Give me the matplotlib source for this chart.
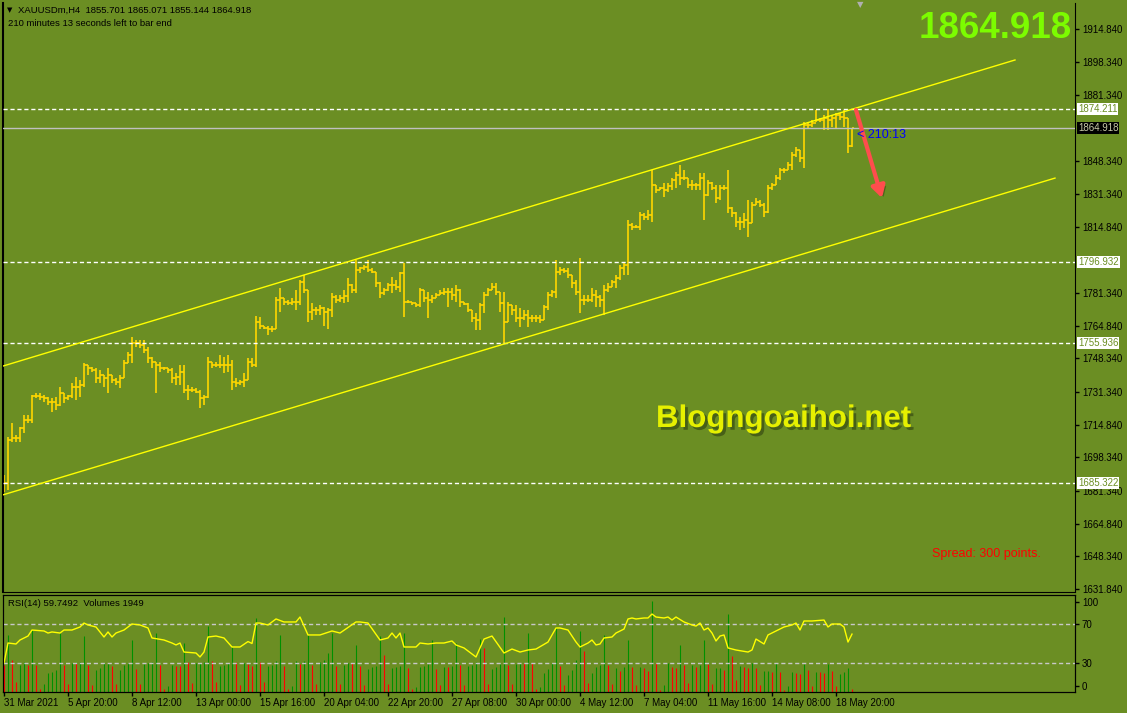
import numpy as np
import matplotlib.pyplot as plt
import matplotlib.patheffects as pe
from matplotlib.collections import LineCollection
from matplotlib.transforms import blended_transform_factory

plt.rcParams['font.family'] = ['Liberation Sans', 'DejaVu Sans']

BG = '#6B8E23'
BAR = '#FFD700'
W, H = 1127, 713

# XAUUSDm H4 bars, 31 Mar 2021 -> 19 May 2021 (open = previous close)
first_open = 1683.0
highs = [
    1689.4, 1708.6, 1715.7, 1709.7, 1713.7, 1719.8, 1719.8, 1729.9, 1730.9, 1730.9,
    1729.9, 1728.9, 1728.4, 1728.9, 1733.9, 1730.9, 1729.9, 1735.9, 1739.0, 1737.5,
    1746.0, 1745.0, 1744.0, 1743.5, 1742.5, 1740.0, 1743.5, 1740.2, 1738.5, 1740.0,
    1747.6, 1751.6, 1759.2, 1757.7, 1757.7, 1757.7, 1754.1, 1749.1, 1746.6, 1746.6,
    1744.0, 1743.5, 1743.5, 1741.0, 1745.0, 1745.0, 1734.9, 1733.9, 1733.4, 1732.4,
    1729.9, 1749.1, 1746.6, 1746.6, 1750.1, 1749.1, 1750.1, 1747.6, 1738.5, 1737.5,
    1741.0, 1748.6, 1748.6, 1769.8, 1769.3, 1764.7, 1764.7, 1764.7, 1779.4, 1783.9,
    1779.0, 1777.9, 1778.9, 1782.9, 1788.0, 1790.5, 1782.9, 1776.4, 1774.3, 1775.4,
    1774.3, 1773.8, 1781.4, 1780.4, 1780.4, 1782.9, 1789.0, 1785.8, 1798.1, 1794.6,
    1795.6, 1798.1, 1794.1, 1792.0, 1787.0, 1783.9, 1786.5, 1789.5, 1788.0, 1792.0,
    1796.6, 1777.9, 1776.9, 1776.4, 1783.9, 1782.9, 1781.9, 1780.4, 1781.4, 1782.9,
    1783.9, 1783.9, 1783.9, 1785.5, 1783.2, 1776.9, 1776.4, 1772.8, 1771.3, 1776.4,
    1781.9, 1783.9, 1786.5, 1786.5, 1781.9, 1781.9, 1776.9, 1775.6, 1775.4, 1773.8,
    1772.8, 1772.8, 1770.3, 1770.3, 1770.3, 1775.4, 1781.9, 1782.9, 1798.1, 1794.6,
    1794.1, 1794.1, 1790.5, 1788.0, 1799.1, 1780.4, 1780.4, 1783.9, 1782.9, 1780.4,
    1785.5, 1786.5, 1788.0, 1790.5, 1795.6, 1796.6, 1818.3, 1816.8, 1815.8, 1822.4,
    1821.9, 1823.4, 1843.6, 1836.0, 1835.0, 1837.0, 1837.0, 1839.5, 1842.6, 1846.1,
    1843.6, 1839.5, 1838.5, 1837.0, 1842.1, 1842.1, 1838.5, 1837.5, 1836.0, 1836.0,
    1836.0, 1843.6, 1824.9, 1822.2, 1819.8, 1821.9, 1828.4, 1827.4, 1829.4, 1828.4,
    1826.9, 1836.0, 1837.0, 1841.1, 1844.6, 1844.6, 1847.6, 1852.7, 1855.2, 1853.7,
    1867.8, 1867.8, 1868.9, 1873.9, 1869.9, 1871.4, 1874.2, 1871.4, 1872.4, 1872.4,
    1873.9, 1869.9, 1865.071]
lows = [
    1680.8, 1681.9, 1706.1, 1706.1, 1706.1, 1710.7, 1715.7, 1715.7, 1728.4, 1727.3,
    1726.3, 1724.8, 1721.3, 1722.3, 1724.5, 1725.8, 1727.3, 1728.4, 1727.3, 1728.9,
    1733.9, 1740.0, 1741.5, 1735.9, 1735.9, 1733.9, 1730.9, 1735.9, 1734.9, 1733.4,
    1738.5, 1746.0, 1746.0, 1754.1, 1753.6, 1751.1, 1746.0, 1743.5, 1730.9, 1741.5,
    1742.5, 1741.0, 1735.9, 1734.9, 1734.9, 1730.9, 1727.3, 1731.4, 1730.9, 1723.3,
    1724.8, 1728.4, 1743.5, 1744.0, 1743.5, 1741.0, 1741.5, 1732.4, 1733.9, 1734.9,
    1733.9, 1737.5, 1744.0, 1744.0, 1763.2, 1763.2, 1760.2, 1761.7, 1763.2, 1771.8,
    1775.4, 1775.4, 1775.4, 1772.8, 1775.4, 1781.4, 1766.8, 1767.8, 1770.3, 1770.3,
    1764.7, 1763.2, 1769.3, 1776.4, 1776.9, 1776.4, 1776.9, 1781.4, 1781.4, 1791.5,
    1793.0, 1792.0, 1791.5, 1784.5, 1778.9, 1780.4, 1782.5, 1781.4, 1782.9, 1781.9,
    1769.3, 1776.4, 1775.4, 1774.3, 1774.3, 1776.9, 1768.8, 1776.4, 1778.9, 1780.4,
    1780.4, 1774.3, 1777.9, 1776.9, 1774.3, 1775.4, 1771.8, 1766.8, 1762.7, 1762.7,
    1771.3, 1780.0, 1782.9, 1780.4, 1771.8, 1756.2, 1766.8, 1770.3, 1766.8, 1764.2,
    1767.8, 1764.2, 1766.8, 1766.8, 1766.3, 1767.8, 1772.8, 1779.4, 1778.9, 1790.5,
    1791.5, 1789.0, 1783.9, 1780.4, 1771.3, 1775.4, 1776.9, 1776.9, 1774.3, 1774.3,
    1770.3, 1781.9, 1784.5, 1783.9, 1788.0, 1790.5, 1790.5, 1813.3, 1814.3, 1813.3,
    1818.3, 1818.3, 1817.3, 1832.0, 1833.5, 1829.9, 1832.5, 1833.5, 1834.5, 1836.0,
    1838.5, 1834.5, 1833.5, 1833.5, 1833.5, 1818.3, 1830.5, 1833.5, 1826.9, 1828.4,
    1833.5, 1821.9, 1819.8, 1814.8, 1813.3, 1814.3, 1809.7, 1816.8, 1825.9, 1824.9,
    1819.8, 1822.0, 1833.5, 1835.8, 1838.5, 1842.1, 1843.6, 1843.6, 1850.2, 1847.6,
    1844.6, 1864.8, 1865.3, 1867.8, 1867.8, 1863.8, 1863.8, 1865.3, 1864.8, 1868.9,
    1865.3, 1852.2, 1855.144]
closes = [
    1685.4, 1707.1, 1708.1, 1708.1, 1713.2, 1717.2, 1717.2, 1729.4, 1729.4, 1728.9,
    1728.4, 1726.3, 1726.3, 1724.8, 1730.9, 1728.4, 1729.4, 1733.9, 1733.9, 1734.9,
    1745.0, 1743.5, 1742.5, 1738.5, 1740.0, 1738.5, 1740.0, 1737.5, 1736.4, 1738.5,
    1746.0, 1750.1, 1756.2, 1756.2, 1755.1, 1752.6, 1748.6, 1746.6, 1745.0, 1743.5,
    1743.5, 1742.5, 1738.5, 1739.0, 1741.5, 1732.4, 1732.4, 1732.4, 1731.4, 1728.4,
    1728.9, 1746.6, 1745.0, 1745.0, 1745.0, 1745.0, 1745.0, 1736.4, 1735.9, 1736.4,
    1737.5, 1746.6, 1745.0, 1766.8, 1764.7, 1763.7, 1763.2, 1763.2, 1777.9, 1778.9,
    1776.9, 1776.4, 1776.9, 1776.9, 1787.0, 1782.9, 1771.8, 1772.8, 1772.8, 1773.8,
    1771.8, 1772.8, 1779.4, 1777.9, 1778.9, 1779.9, 1785.5, 1782.9, 1793.0, 1794.1,
    1794.6, 1793.0, 1792.0, 1786.5, 1781.4, 1782.9, 1785.5, 1785.5, 1784.5, 1791.5,
    1776.9, 1776.9, 1776.4, 1775.4, 1782.9, 1778.9, 1777.9, 1778.9, 1780.4, 1781.4,
    1781.9, 1781.9, 1780.4, 1782.9, 1776.9, 1775.9, 1772.8, 1768.8, 1767.8, 1775.4,
    1780.4, 1782.9, 1784.5, 1781.9, 1776.4, 1766.8, 1775.4, 1772.8, 1768.8, 1768.8,
    1770.3, 1768.8, 1768.8, 1768.8, 1767.8, 1774.3, 1780.4, 1781.9, 1792.0, 1793.0,
    1792.5, 1790.5, 1786.5, 1781.9, 1777.9, 1777.9, 1777.9, 1780.4, 1779.4, 1777.9,
    1782.9, 1784.5, 1787.0, 1789.0, 1794.1, 1795.6, 1815.8, 1814.8, 1814.8, 1820.8,
    1819.8, 1820.8, 1836.0, 1833.5, 1834.5, 1833.5, 1835.5, 1838.5, 1841.1, 1839.5,
    1839.5, 1836.0, 1836.0, 1836.0, 1839.5, 1831.0, 1837.0, 1834.5, 1829.4, 1834.5,
    1834.5, 1824.4, 1821.9, 1817.3, 1817.3, 1818.3, 1816.8, 1825.9, 1827.4, 1825.9,
    1822.4, 1834.5, 1836.0, 1839.5, 1843.6, 1843.6, 1846.1, 1851.2, 1853.7, 1849.7,
    1866.3, 1866.3, 1867.3, 1868.9, 1868.9, 1869.9, 1868.9, 1869.9, 1871.4, 1870.4,
    1869.9, 1855.7, 1864.918]

volumes = [
    16200, 34200, 19200, 6200, 16200, 17800, 16200, 37200, 16200, 2000,
    4800, 11600, 12200, 13200, 35600, 16200, 4800, 17600, 17600, 17800,
    33600, 16200, 4200, 13200, 14200, 17200, 17600, 15600, 4600, 13200,
    16200, 17600, 31200, 13800, 4800, 16800, 17600, 18200, 35600, 16200,
    1800, 3600, 16200, 15600, 15600, 29200, 18200, 5200, 17200, 17600,
    18200, 39600, 18600, 6200, 15600, 16200, 17600, 27200, 18200, 4200,
    17600, 16800, 15600, 44200, 18200, 6000, 15600, 16200, 18800, 34200,
    15600, 2000, 3600, 18600, 16800, 18600, 34200, 16200, 4600, 18200,
    19200, 23200, 35600, 15600, 4800, 16200, 17600, 17600, 28200, 15600,
    4200, 13800, 14800, 15600, 33600, 22200, 4800, 14200, 14800, 15600,
    35600, 14200, 1800, 2800, 14800, 15600, 16800, 31200, 13800, 4200,
    14800, 14800, 15600, 29200, 16200, 4200, 15600, 16200, 18200, 31600,
    26200, 4800, 13800, 15200, 16800, 45200, 16200, 4600, 16800, 17600,
    17600, 35600, 17600, 2000, 3000, 11200, 13800, 17200, 38800,
    15600, 4200, 10400, 13200, 19200, 36600, 24600, 5200, 11200, 14800,
    16200, 34200, 16200, 4800, 14200, 12600, 14800, 31200, 14800, 4200,
    14800, 14200, 12600, 54600, 17600, 1200, 4200, 17200, 14800, 14200,
    28200, 16200, 5200, 16200, 15200, 16200, 31200, 16800, 4800, 14200,
    14700, 13200, 46800, 21600, 7200, 15600, 14800, 14200, 17200, 14200,
    4200, 12600, 12900, 12200, 17200, 12200, 1200, 3400, 12200, 11200,
    10800, 16800, 13200, 3600, 12200, 12000, 11200, 16800, 12600, 3400,
    11000, 12200, 14600, 1949]

# RSI(14) read at its turning points (bar index, value)
rsi_bar = [0, 1, 3, 4, 6, 7, 10, 11, 12, 14, 15, 17, 19, 20, 21, 23, 25, 26, 27, 28,
           30, 32, 34, 36, 37, 40, 42, 43, 44, 45, 48, 49, 50, 51, 53, 55, 57, 59, 61, 62,
           63, 64, 66, 68, 70, 73, 74, 76, 79, 82, 84, 88, 89, 91, 94, 96, 97, 98, 99, 100,
           103, 104, 106, 108, 110, 112, 113, 115, 118, 120, 122, 125, 127, 129, 131, 133,
           136, 138, 139, 141, 143, 144, 146, 147, 148, 149, 150, 152, 153, 155, 156, 157,
           158, 160, 161, 162, 163, 165, 166, 167, 168, 170, 172, 173, 174, 175, 176, 177,
           178, 179, 180, 181, 183, 186, 187, 188, 190, 191, 193, 195, 197, 198, 199, 200,
           202, 205, 206, 207, 209, 210, 211, 212]
rsi_val = [29.9, 50.5, 49.5, 53.6, 57.7, 63.9, 62.9, 60.8, 61.9, 60.8, 63.9, 63.9, 67.0, 71.1,
           69.1, 67.0, 56.7, 61.9, 56.7, 60.8, 63.9, 70.1, 69.1, 66.0, 55.7, 53.6, 50.5, 48.5,
           50.5, 41.2, 40.2, 36.1, 41.2, 56.7, 57.7, 55.7, 46.4, 46.4, 52.0, 50.0, 71.1, 71.1,
           69.1, 75.3, 72.2, 72.2, 77.3, 58.8, 58.8, 62.9, 60.8, 72.2, 72.2, 71.1, 53.6, 55.7,
           60.8, 55.7, 60.8, 46.4, 46.4, 50.5, 49.5, 50.5, 50.5, 52.6, 48.5, 45.4, 36.1, 54.6,
           57.7, 40.2, 44.3, 41.2, 43.3, 44.3, 51.5, 66.0, 66.0, 63.9, 51.5, 46.4, 50.5, 53.6,
           48.5, 49.5, 55.7, 56.7, 60.8, 64.9, 75.3, 76.3, 75.3, 76.3, 76.3, 80.4, 77.3, 76.3,
           77.3, 74.2, 77.3, 72.2, 69.1, 68.0, 71.1, 63.9, 66.0, 60.8, 52.6, 57.7, 58.8, 45.4,
           43.3, 41.2, 43.3, 54.6, 49.5, 58.8, 62.9, 67.0, 69.1, 71.1, 63.9, 73.2, 73.2, 74.2,
           67.0, 70.1, 70.1, 67.0, 51.5, 59.7]

date_ticks = [0, 16, 32, 48, 64, 80, 96, 112, 128, 144, 160, 176, 192, 208]
date_labels = ['31 Mar 2021', '5 Apr 20:00', '8 Apr 12:00', '13 Apr 00:00', '15 Apr 16:00',
               '20 Apr 04:00', '22 Apr 20:00', '27 Apr 08:00', '30 Apr 00:00', '4 May 12:00',
               '7 May 04:00', '11 May 16:00', '14 May 08:00', '18 May 20:00']
price_ticks = [1914.84, 1898.34, 1881.34, 1848.34, 1831.34, 1814.84, 1781.34, 1764.84,
               1748.34, 1731.34, 1714.84, 1698.34, 1681.34, 1664.84, 1648.34, 1631.84]
levels = [1874.211, 1796.932, 1755.936, 1685.322]
bid = 1864.918
upper_x, upper_y = [-0.25, 252.75], [1744.5, 1899.2]
lower_x, lower_y = [-0.25, 262.75], [1679.4, 1839.5]
arrow_from, arrow_to = (213.0, 1873.9), (219.5, 1829.4)


def box(x0, y0, x1, y1):
    return [x0 / W, 1 - y1 / H, (x1 - x0) / W, (y1 - y0) / H]


fig = plt.figure(figsize=(W / 100, H / 100), dpi=100, facecolor=BG)
ax = fig.add_axes(box(3, 3, 1075, 592), facecolor=BG)
ai = fig.add_axes(box(3, 595, 1075, 692), facecolor=BG)

# ---- price panel
n = len(closes)
opens = [first_open] + closes[:-1]
segs = []
for i in range(n):
    segs.append([(i, lows[i]), (i, highs[i])])
    segs.append([(i - 0.45, opens[i]), (i, opens[i])])
    segs.append([(i, closes[i]), (i + 0.45, closes[i])])
ax.add_collection(LineCollection(segs, colors=BAR, linewidths=1.2, zorder=2))

for lv in levels:
    ax.axhline(lv, color='white', lw=1, ls=(0, (3, 2)), zorder=3)
ax.axhline(bid, color='#C0C0C0', lw=1, zorder=3)
ax.plot(upper_x, upper_y, color='#FFFF00', lw=1, zorder=3)
ax.plot(lower_x, lower_y, color='#FFFF00', lw=1, zorder=3)

ann = ax.annotate('', xy=arrow_to, xytext=arrow_from, zorder=4,
                  arrowprops=dict(arrowstyle='-|>,head_length=0.7,head_width=0.4',
                                  color='#FF4D4D', lw=3, shrinkA=0, shrinkB=0,
                                  mutation_scale=10))
ann.arrow_patch.set_path_effects([pe.withSimplePatchShadow(offset=(2, -2),
                                  shadow_rgbFace='#2F4010', alpha=0.5)])

ax.set_xlim(-0.25, 267.75)
ax.set_ylim(1630.3, 1928.0)
ax.set_xticks([])
ax.yaxis.tick_right()
ax.set_yticks(price_ticks)
ax.set_yticklabels([f'{p:.3f}' for p in price_ticks])
ax.tick_params(axis='y', direction='out', length=3, width=1, pad=2, labelsize=7, colors='black')
for s in ['left', 'right', 'bottom']:
    ax.spines[s].set_color('black')
ax.spines['left'].set_linewidth(1.5)
ax.spines['top'].set_visible(False)

tr = blended_transform_factory(ax.transAxes, ax.transData)
for lv in levels:
    ax.text(1 + 3 / 1072, lv, f'{lv:.3f}', transform=tr, fontsize=7, color=BG,
            ha='left', va='center', clip_on=False,
            bbox=dict(boxstyle='square,pad=0.1', fc='white', ec='none'))
ax.text(1 + 3 / 1072, bid, f'{bid:.3f}', transform=tr, fontsize=7, color='#C8C8A8',
        ha='left', va='center', clip_on=False,
        bbox=dict(boxstyle='square,pad=0.1', fc='black', ec='none'))

# ---- volumes + RSI panel
vol_colors = ['#FF0000'] + ['#009000' if volumes[i] > volumes[i - 1] else '#FF0000'
                            for i in range(1, n)]
ai.vlines(np.arange(n), 0, volumes, colors=vol_colors, lw=0.8)
ai.set_xlim(-0.25, 267.75)
ai.set_ylim(0, 58200)
ai.set_yticks([])
ai.set_xticks(date_ticks)
ai.set_xticklabels(date_labels)
ai.tick_params(axis='x', direction='out', length=3, width=1, pad=1, labelsize=7, colors='black')
for lab in ai.get_xticklabels():
    lab.set_ha('left')
for s in ai.spines.values():
    s.set_color('black')

ar = ai.twinx()
ar.set_ylim(0, 100)
ar.axhline(70, color='#C8C8C8', lw=1, ls=(0, (3, 2)))
ar.axhline(30, color='#C8C8C8', lw=1, ls=(0, (3, 2)))
ar.plot(rsi_bar, rsi_val, color='#FFFF00', lw=1)
ar.set_yticks([6.5, 30, 70, 93])
ar.set_yticklabels(['0', '30', '70', '100'])
ar.tick_params(axis='y', direction='out', length=3, width=1, pad=2, labelsize=7, colors='black')
for s in ar.spines.values():
    s.set_color('black')

# ---- texts
fig.text(7 / W, 1 - 10 / H, '\u25bc', fontsize=5, color='black', va='center',
         family=['DejaVu Sans'])
fig.text(18 / W, 1 - 10 / H, 'XAUUSDm,H4  1855.701 1865.071 1855.144 1864.918',
         fontsize=6.8, color='black', va='center')
fig.text(8 / W, 1 - 23 / H, '210 minutes 13 seconds left to bar end',
         fontsize=6.8, color='black', va='center')
fig.text(860 / W, 1 - 5 / H, '\u25bc', fontsize=6, color='#B0B0B0', ha='center',
         va='center', family=['DejaVu Sans'])
fig.text(1072 / W, 1 - 38.5 / H, '1864.918', fontsize=26.5, fontweight='bold',
         color='#7CFC00', ha='right', va='baseline')
fig.text(656 / W, 1 - 427 / H, 'Blogngoaihoi.net', fontsize=22.5, fontweight='bold',
         color='#E6F000', va='baseline',
         path_effects=[pe.withSimplePatchShadow(offset=(2, -2), shadow_rgbFace='#2F4010',
                                                alpha=0.6)])
fig.text(932 / W, 1 - 557 / H, 'Spread: 300 points.', fontsize=9, color='#FF0000',
         va='baseline')
fig.text(857 / W, 1 - 138 / H, '< 210:13', fontsize=9, color='#0000FF', va='baseline')
fig.text(8 / W, 1 - 604 / H, 'RSI(14) 59.7492  Volumes 1949', fontsize=6.8,
         color='black', va='center')

fig.savefig('out.png', dpi=100, facecolor=BG)
